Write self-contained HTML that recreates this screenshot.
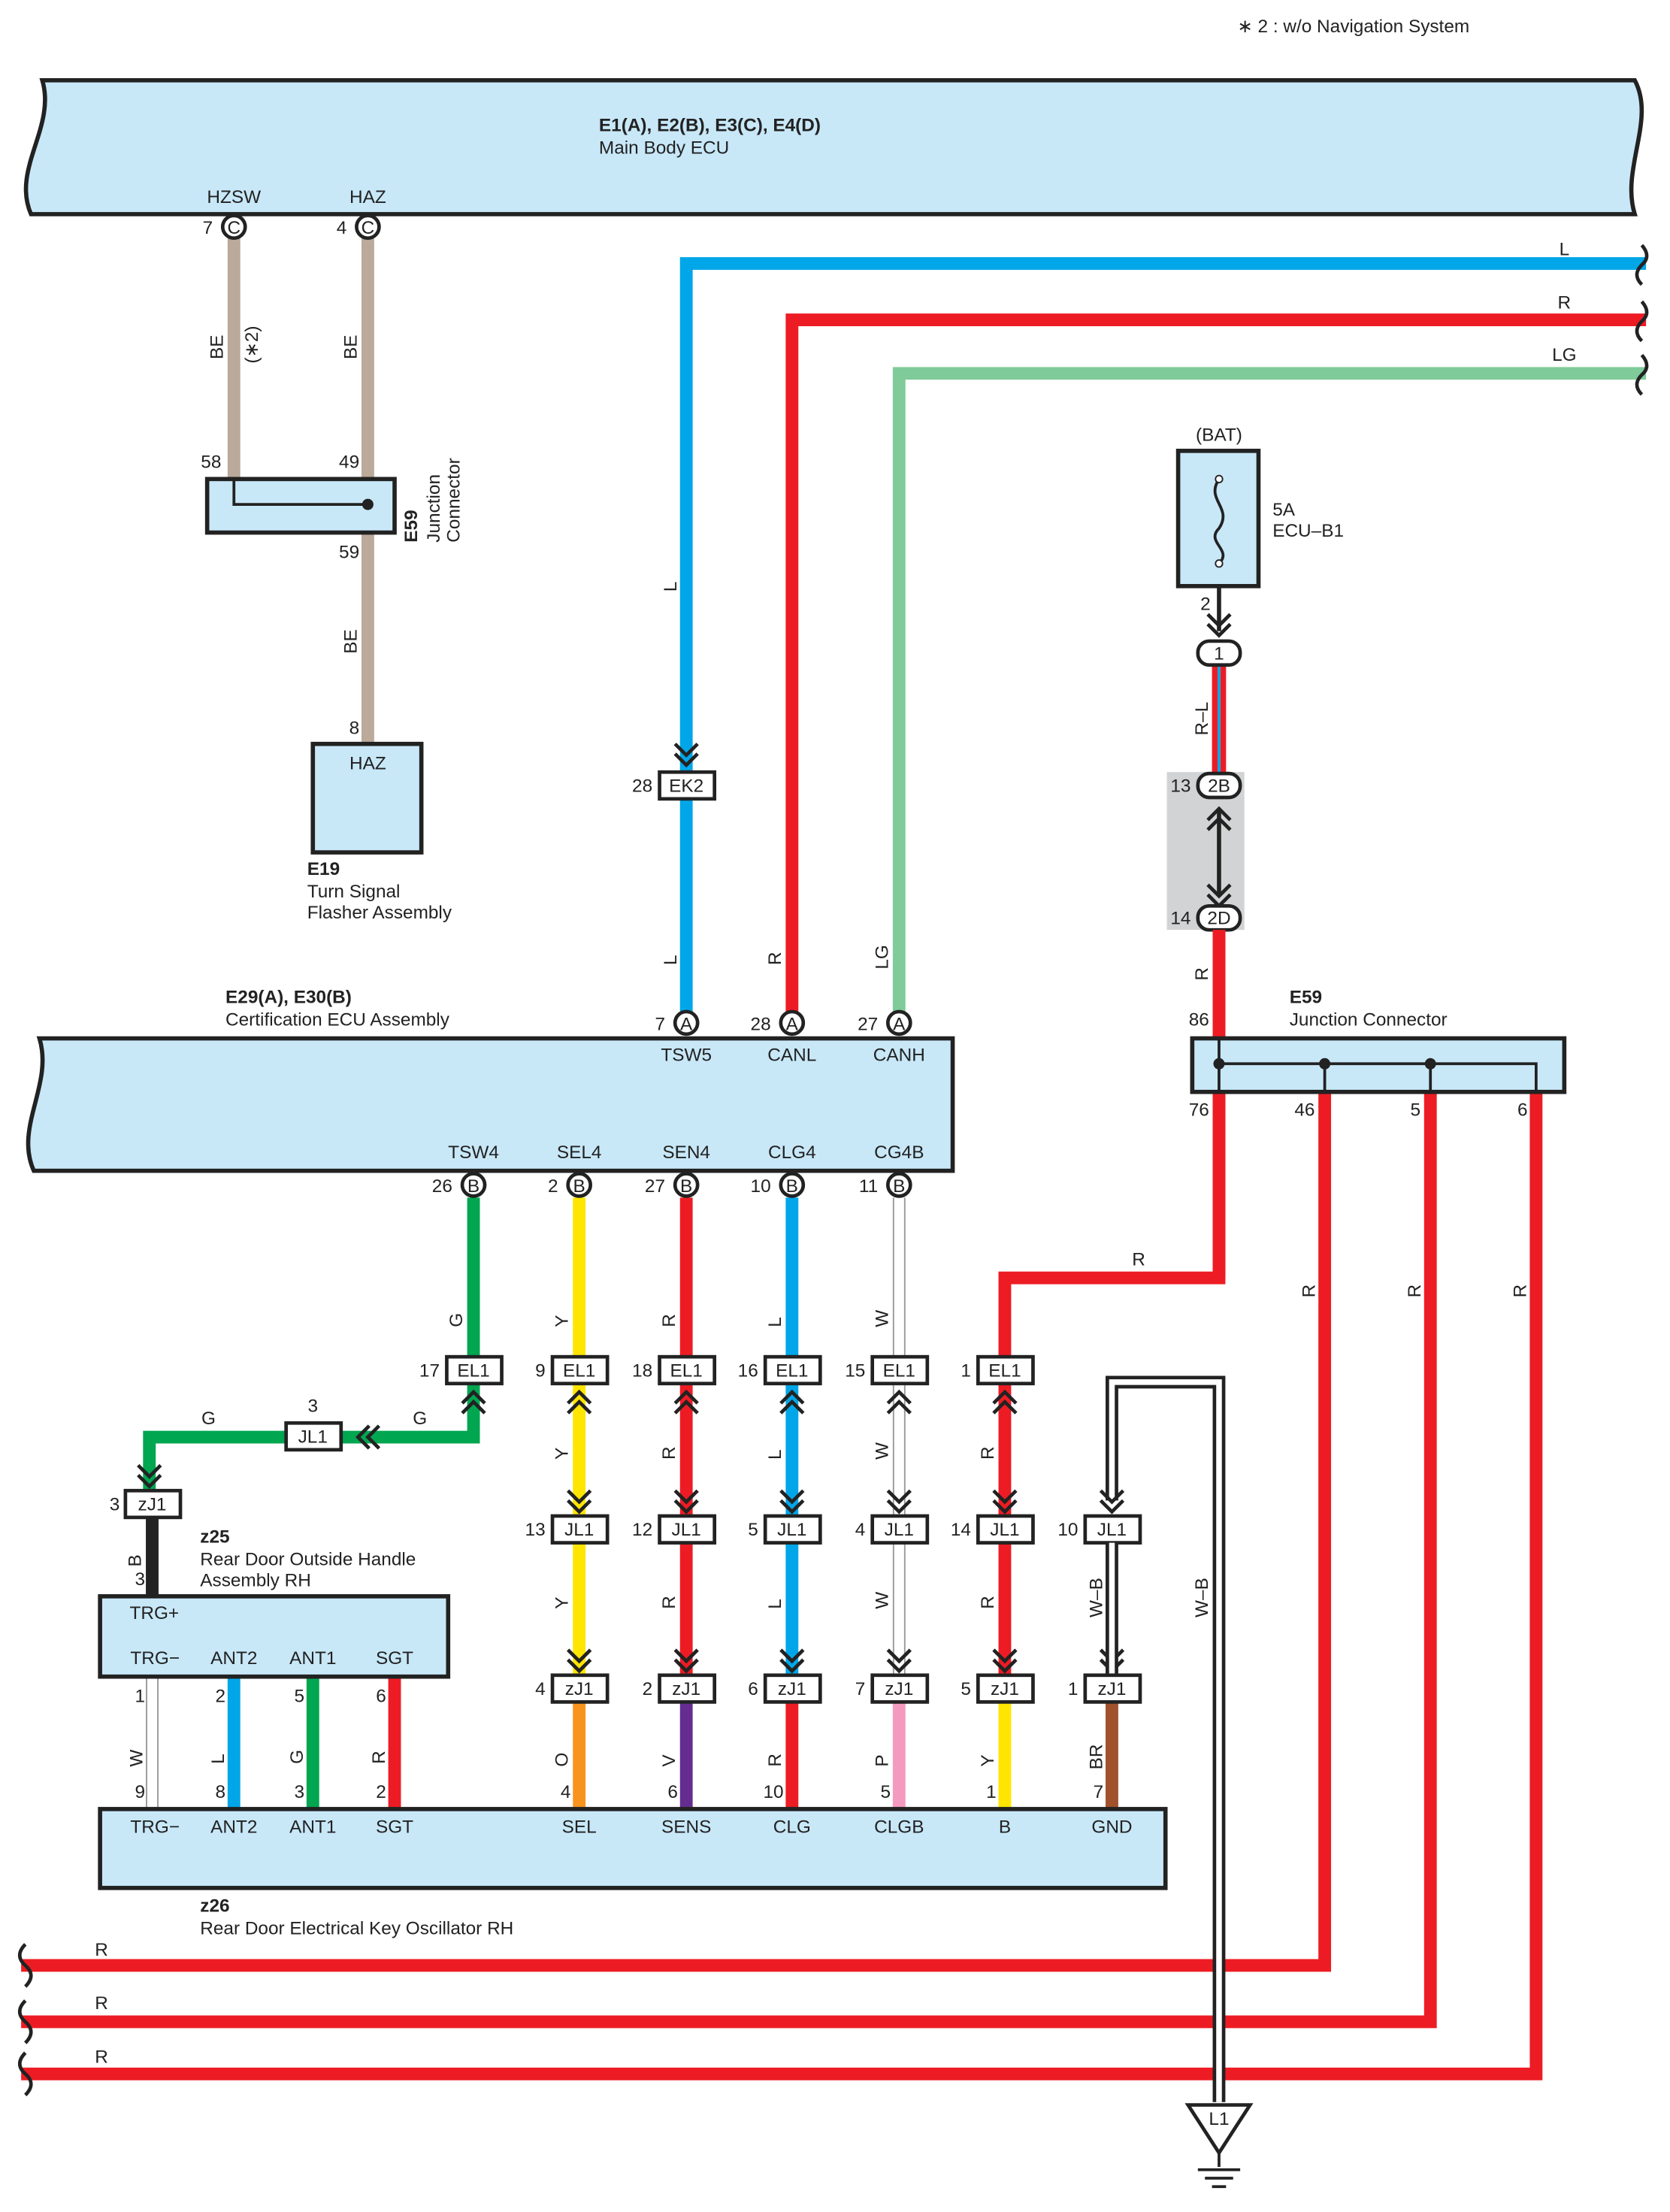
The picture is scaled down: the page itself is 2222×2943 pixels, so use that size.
<!DOCTYPE html>
<html><head><meta charset="utf-8"><style>
html,body{margin:0;padding:0;background:#fff}
svg{display:block}
text{font-family:"Liberation Sans",sans-serif;font-size:13px;fill:#222}
.b{font-weight:bold}
.c{text-anchor:middle}
.e{text-anchor:end}
.box{fill:#c8e8f8;stroke:#222;stroke-width:3}
.cn{fill:#fff;stroke:#222;stroke-width:2.5}
.ch{fill:none;stroke:#222;stroke-width:2.5}
.w{fill:none;stroke-width:9;stroke-linejoin:miter}
</style></head><body>
<svg width="2222" height="2943" viewBox="0 0 1185 1570" preserveAspectRatio="none" xmlns="http://www.w3.org/2000/svg">
<text x="878" y="23">∗ 2 : w/o Navigation System</text>

<path class="box" d="M30 57 L1160 57 C1175 85 1150 120 1160 152 L22 152 C8 120 40 90 30 57 Z"/>
<text x="425" y="93" class="b">E1(A), E2(B), E3(C), E4(D)</text>
<text x="425" y="109">Main Body ECU</text>
<text x="166" y="144" class="c">HZSW</text>
<text x="261" y="144" class="c">HAZ</text>

<path class="w" stroke="#bba99a" d="M166 168 V340"/>
<path class="w" stroke="#bba99a" d="M261 168 V528"/>
<rect x="147" y="340" width="133" height="38" class="box"/>
<path d="M166 340 V358 H261" fill="none" stroke="#222" stroke-width="2"/>
<circle cx="261" cy="358" r="4" fill="#222"/>
<circle cx="166" cy="161" r="8" class="cn"/><text x="166" y="166" class="c">C</text><text x="151" y="166" class="e">7</text>
<circle cx="261" cy="161" r="8" class="cn"/><text x="261" y="166" class="c">C</text><text x="246" y="166" class="e">4</text>
<text x="157" y="332" class="e">58</text><text x="255" y="332" class="e">49</text><text x="255" y="396" class="e">59</text>
<text transform="translate(158,255) rotate(-90)">BE</text>
<text transform="translate(183,258) rotate(-90)">(∗2)</text>
<text transform="translate(253,255) rotate(-90)">BE</text>
<text transform="translate(253,464) rotate(-90)">BE</text>
<text transform="translate(296,385) rotate(-90)" class="b">E59</text>
<text transform="translate(312,385) rotate(-90)">Junction</text>
<text transform="translate(326,385) rotate(-90)">Connector</text>
<rect x="222" y="528" width="77" height="77" class="box"/>
<text x="261" y="546" class="c">HAZ</text><text x="255" y="521" class="e">8</text>
<text x="218" y="621" class="b">E19</text>
<text x="218" y="637">Turn Signal</text>
<text x="218" y="652">Flasher Assembly</text>

<path class="w" stroke="#00a6e8" d="M1168 187 H487 V718"/>
<path class="w" stroke="#ed1c24" d="M1168 227 H562 V718"/>
<path class="w" stroke="#7fcb9a" d="M1168 265 H638 V718"/>
<path d="M1165 174 q7 8 0 14 q-7 7 0 14 M1165 214 q7 8 0 14 q-7 7 0 14 M1165 252 q7 8 0 14 q-7 7 0 14" fill="none" stroke="#222" stroke-width="2.5"/>
<text x="1110" y="181" class="c">L</text><text x="1110" y="219" class="c">R</text><text x="1110" y="256" class="c">LG</text>
<text transform="translate(480,420) rotate(-90)">L</text>
<path class="ch" d="M479 528 L487 536 L495 528 M479 535 L487 543 L495 535"/>
<rect x="468" y="548" width="39" height="19" class="cn"/><text x="487" y="562" class="c">EK2</text><text x="463" y="562" class="e">28</text>
<text transform="translate(480,685) rotate(-90)">L</text>
<text transform="translate(554,685) rotate(-90)">R</text>
<text transform="translate(630,688) rotate(-90)">LG</text>

<text x="160" y="712" class="b">E29(A), E30(B)</text>
<text x="160" y="728">Certification ECU Assembly</text>
<path class="box" d="M28 737 L676 737 L676 831 L24 831 C10 800 38 770 28 737 Z"/>
<circle cx="487" cy="726" r="8" class="cn"/><text x="487" y="731" class="c">A</text><text x="472" y="731" class="e">7</text>
<circle cx="562" cy="726" r="8" class="cn"/><text x="562" y="731" class="c">A</text><text x="547" y="731" class="e">28</text>
<circle cx="638" cy="726" r="8" class="cn"/><text x="638" y="731" class="c">A</text><text x="623" y="731" class="e">27</text>
<text x="487" y="753" class="c">TSW5</text><text x="562" y="753" class="c">CANL</text><text x="638" y="753" class="c">CANH</text>
<text x="336" y="822" class="c">TSW4</text><text x="411" y="822" class="c">SEL4</text><text x="487" y="822" class="c">SEN4</text><text x="562" y="822" class="c">CLG4</text><text x="638" y="822" class="c">CG4B</text>

<path class="w" stroke="#00a650" d="M336 850 V1020 H106 V1058"/>
<path class="w" stroke="#ffe500" d="M411 850 V1189"/>
<path class="w" stroke="#ed1c24" d="M487 850 V1189"/>
<path class="w" stroke="#00a6e8" d="M562 850 V1189"/>
<path fill="none" stroke="#999" stroke-width="9" d="M638 850 V1189"/><path fill="none" stroke="#fff" stroke-width="7" d="M638 850 V1189"/>
<path class="w" stroke="#ed1c24" d="M865 660 V907 H713 V1189"/>
<path class="w" stroke="#f7941d" d="M411 1208 V1284"/>
<path class="w" stroke="#662d91" d="M487 1208 V1284"/>
<path class="w" stroke="#ed1c24" d="M562 1208 V1284"/>
<path class="w" stroke="#f49ac1" d="M638 1208 V1284"/>
<path class="w" stroke="#ffe500" d="M713 1208 V1284"/>
<path class="w" stroke="#a0522d" d="M789 1208 V1284"/>
<path class="w" stroke="#222" d="M108 1076 V1133"/>
<path fill="none" stroke="#999" stroke-width="9" d="M108 1190 V1284"/><path fill="none" stroke="#fff" stroke-width="7" d="M108 1190 V1284"/>
<path class="w" stroke="#00a6e8" d="M166 1190 V1284"/>
<path class="w" stroke="#00a650" d="M222 1190 V1284"/>
<path class="w" stroke="#ed1c24" d="M280 1190 V1284"/>

<path class="w" stroke="#ed1c24" d="M940 775 V1395 H15"/>
<path class="w" stroke="#ed1c24" d="M1015 775 V1435 H15"/>
<path class="w" stroke="#ed1c24" d="M1090 775 V1472 H15"/>
<path d="M18 1380 q-8 8 0 15 q8 7 0 15 M18 1420 q-8 8 0 15 q8 7 0 15 M18 1457 q-8 8 0 15 q8 7 0 15" fill="none" stroke="#222" stroke-width="2.5"/>
<text x="72" y="1388" class="c">R</text><text x="72" y="1426" class="c">R</text><text x="72" y="1464" class="c">R</text>
<text transform="translate(933,921) rotate(-90)">R</text>
<text transform="translate(1008,921) rotate(-90)">R</text>
<text transform="translate(1083,921) rotate(-90)">R</text>
<text x="808" y="898" class="c">R</text>

<path d="M789 1065 V981 H865 V1492" fill="none" stroke="#222" stroke-width="9"/>
<path d="M789 1065 V981 H865 V1492" fill="none" stroke="#fff" stroke-width="4"/>
<text transform="translate(782,1148) rotate(-90)">W–B</text>
<text transform="translate(857,1148) rotate(-90)">W–B</text>
<path d="M843 1494 L887 1494 L865 1528 Z" fill="#fff" stroke="#222" stroke-width="2.5"/>
<text x="865" y="1508" class="c">L1</text>
<path d="M865 1528 V1538 M850 1540 H880 M855 1546 H875 M860 1552 H870" stroke="#222" stroke-width="2" fill="none"/>

<g>
<circle cx="336" cy="841" r="8" class="cn"/><text x="336" y="846" class="c">B</text><text x="321" y="846" class="e">26</text>
<circle cx="411" cy="841" r="8" class="cn"/><text x="411" y="846" class="c">B</text><text x="396" y="846" class="e">2</text>
<circle cx="487" cy="841" r="8" class="cn"/><text x="487" y="846" class="c">B</text><text x="472" y="846" class="e">27</text>
<circle cx="562" cy="841" r="8" class="cn"/><text x="562" y="846" class="c">B</text><text x="547" y="846" class="e">10</text>
<circle cx="638" cy="841" r="8" class="cn"/><text x="638" y="846" class="c">B</text><text x="623" y="846" class="e">11</text>
</g>
<text transform="translate(328,942) rotate(-90)">G</text>
<text transform="translate(403,942) rotate(-90)">Y</text>
<text transform="translate(479,942) rotate(-90)">R</text>
<text transform="translate(554,942) rotate(-90)">L</text>
<text transform="translate(630,942) rotate(-90)">W</text>
<text transform="translate(403,1036) rotate(-90)">Y</text>
<text transform="translate(479,1036) rotate(-90)">R</text>
<text transform="translate(554,1036) rotate(-90)">L</text>
<text transform="translate(630,1036) rotate(-90)">W</text>
<text transform="translate(705,1036) rotate(-90)">R</text>
<text transform="translate(403,1142) rotate(-90)">Y</text>
<text transform="translate(479,1142) rotate(-90)">R</text>
<text transform="translate(554,1142) rotate(-90)">L</text>
<text transform="translate(630,1142) rotate(-90)">W</text>
<text transform="translate(705,1142) rotate(-90)">R</text>
<text transform="translate(403,1254) rotate(-90)">O</text>
<text transform="translate(479,1254) rotate(-90)">V</text>
<text transform="translate(554,1254) rotate(-90)">R</text>
<text transform="translate(630,1254) rotate(-90)">P</text>
<text transform="translate(705,1254) rotate(-90)">Y</text>
<text transform="translate(782,1256) rotate(-90)">BR</text>

<g>
<path class="ch" d="M328 996 L336 988 L344 996 M328 1003 L336 995 L344 1003"/>
<rect x="317" y="963" width="39" height="19" class="cn"/><text x="336" y="977" class="c">EL1</text><text x="312" y="977" class="e">17</text>
<rect x="392" y="963" width="39" height="19" class="cn"/><text x="411" y="977" class="c">EL1</text><text x="387" y="977" class="e">9</text>
<rect x="468" y="963" width="39" height="19" class="cn"/><text x="487" y="977" class="c">EL1</text><text x="463" y="977" class="e">18</text>
<rect x="543" y="963" width="39" height="19" class="cn"/><text x="562" y="977" class="c">EL1</text><text x="538" y="977" class="e">16</text>
<rect x="619" y="963" width="39" height="19" class="cn"/><text x="638" y="977" class="c">EL1</text><text x="614" y="977" class="e">15</text>
<rect x="694" y="963" width="39" height="19" class="cn"/><text x="713" y="977" class="c">EL1</text><text x="689" y="977" class="e">1</text>
</g>
<g class="ch">
<path d="M403 996 L411 988 L419 996 M403 1003 L411 995 L419 1003"/>
<path d="M479 996 L487 988 L495 996 M479 1003 L487 995 L495 1003"/>
<path d="M554 996 L562 988 L570 996 M554 1003 L562 995 L570 1003"/>
<path d="M630 996 L638 988 L646 996 M630 1003 L638 995 L646 1003"/>
<path d="M705 996 L713 988 L721 996 M705 1003 L713 995 L721 1003"/>
<path d="M403 1058 L411 1066 L419 1058 M403 1065 L411 1073 L419 1065"/>
<path d="M479 1058 L487 1066 L495 1058 M479 1065 L487 1073 L495 1065"/>
<path d="M554 1058 L562 1066 L570 1058 M554 1065 L562 1073 L570 1065"/>
<path d="M630 1058 L638 1066 L646 1058 M630 1065 L638 1073 L646 1065"/>
<path d="M705 1058 L713 1066 L721 1058 M705 1065 L713 1073 L721 1065"/>
<path d="M781 1058 L789 1066 L797 1058 M781 1065 L789 1073 L797 1065"/>
<path d="M403 1171 L411 1179 L419 1171 M403 1178 L411 1186 L419 1178"/>
<path d="M479 1171 L487 1179 L495 1171 M479 1178 L487 1186 L495 1178"/>
<path d="M554 1171 L562 1179 L570 1171 M554 1178 L562 1186 L570 1178"/>
<path d="M630 1171 L638 1179 L646 1171 M630 1178 L638 1186 L646 1178"/>
<path d="M705 1171 L713 1179 L721 1171 M705 1178 L713 1186 L721 1178"/>
<path d="M781 1171 L789 1179 L797 1171 M781 1178 L789 1186 L797 1178"/>
<path d="M262 1012 L254 1020 L262 1028 M269 1012 L261 1020 L269 1028"/>
<path d="M98 1040 L106 1048 L114 1040 M98 1047 L106 1055 L114 1047"/>
</g>
<rect x="392" y="1076" width="39" height="19" class="cn"/><text x="411" y="1090" class="c">JL1</text><text x="387" y="1090" class="e">13</text>
<rect x="468" y="1076" width="39" height="19" class="cn"/><text x="487" y="1090" class="c">JL1</text><text x="463" y="1090" class="e">12</text>
<rect x="543" y="1076" width="39" height="19" class="cn"/><text x="562" y="1090" class="c">JL1</text><text x="538" y="1090" class="e">5</text>
<rect x="619" y="1076" width="39" height="19" class="cn"/><text x="638" y="1090" class="c">JL1</text><text x="614" y="1090" class="e">4</text>
<rect x="694" y="1076" width="39" height="19" class="cn"/><text x="713" y="1090" class="c">JL1</text><text x="689" y="1090" class="e">14</text>
<rect x="770" y="1076" width="39" height="19" class="cn"/><text x="789" y="1090" class="c">JL1</text><text x="765" y="1090" class="e">10</text>
<path d="M789 1095 V1189" fill="none" stroke="#222" stroke-width="9"/><path d="M789 1095 V1189" fill="none" stroke="#fff" stroke-width="4"/>
<rect x="392" y="1189" width="39" height="19" class="cn"/><text x="411" y="1203" class="c">zJ1</text><text x="387" y="1203" class="e">4</text>
<rect x="468" y="1189" width="39" height="19" class="cn"/><text x="487" y="1203" class="c">zJ1</text><text x="463" y="1203" class="e">2</text>
<rect x="543" y="1189" width="39" height="19" class="cn"/><text x="562" y="1203" class="c">zJ1</text><text x="538" y="1203" class="e">6</text>
<rect x="619" y="1189" width="39" height="19" class="cn"/><text x="638" y="1203" class="c">zJ1</text><text x="614" y="1203" class="e">7</text>
<rect x="694" y="1189" width="39" height="19" class="cn"/><text x="713" y="1203" class="c">zJ1</text><text x="689" y="1203" class="e">5</text>
<rect x="770" y="1189" width="39" height="19" class="cn"/><text x="789" y="1203" class="c">zJ1</text><text x="765" y="1203" class="e">1</text>

<rect x="203" y="1010" width="39" height="19" class="cn"/><text x="222" y="1024" class="c">JL1</text>
<text x="222" y="1002" class="c">3</text><text x="148" y="1011" class="c">G</text><text x="298" y="1011" class="c">G</text>
<rect x="89" y="1058" width="39" height="19" class="cn"/><text x="108" y="1072" class="c">zJ1</text><text x="85" y="1072" class="e">3</text>
<text transform="translate(100,1112) rotate(-90)">B</text><text x="103" y="1125" class="e">3</text>
<text x="142" y="1095" class="b">z25</text>
<text x="142" y="1111">Rear Door Outside Handle</text>
<text x="142" y="1126">Assembly RH</text>

<rect x="71" y="1133" width="247" height="57" class="box"/>
<text x="92" y="1149">TRG+</text>
<text x="110" y="1181" class="c">TRG−</text><text x="166" y="1181" class="c">ANT2</text><text x="222" y="1181" class="c">ANT1</text><text x="280" y="1181" class="c">SGT</text>
<text x="103" y="1208" class="e">1</text><text x="160" y="1208" class="e">2</text><text x="216" y="1208" class="e">5</text><text x="274" y="1208" class="e">6</text>
<text transform="translate(101,1254) rotate(-90)">W</text>
<text transform="translate(159,1252) rotate(-90)">L</text>
<text transform="translate(215,1252) rotate(-90)">G</text>
<text transform="translate(273,1252) rotate(-90)">R</text>
<text x="103" y="1276" class="e">9</text><text x="160" y="1276" class="e">8</text><text x="216" y="1276" class="e">3</text><text x="274" y="1276" class="e">2</text>
<text x="405" y="1276" class="e">4</text><text x="481" y="1276" class="e">6</text><text x="556" y="1276" class="e">10</text><text x="632" y="1276" class="e">5</text><text x="707" y="1276" class="e">1</text><text x="783" y="1276" class="e">7</text>

<rect x="71" y="1284" width="756" height="56" class="box"/>
<text x="110" y="1301" class="c">TRG−</text><text x="166" y="1301" class="c">ANT2</text><text x="222" y="1301" class="c">ANT1</text><text x="280" y="1301" class="c">SGT</text>
<text x="411" y="1301" class="c">SEL</text><text x="487" y="1301" class="c">SENS</text><text x="562" y="1301" class="c">CLG</text><text x="638" y="1301" class="c">CLGB</text><text x="713" y="1301" class="c">B</text><text x="789" y="1301" class="c">GND</text>
<text x="142" y="1357" class="b">z26</text>
<text x="142" y="1373">Rear Door Electrical Key Oscillator RH</text>

<text x="865" y="313" class="c">(BAT)</text>
<rect x="836" y="320" width="57" height="96" class="box"/>
<path d="M865 340 C855 355 875 360 865 375 C855 385 875 390 865 400" fill="none" stroke="#222" stroke-width="2"/>
<circle cx="865" cy="340" r="2.5" fill="#fff" stroke="#222"/><circle cx="865" cy="400" r="2.5" fill="#fff" stroke="#222"/>
<text x="903" y="366">5A</text><text x="903" y="381">ECU–B1</text>
<path d="M865 416 V448" stroke="#222" stroke-width="3"/>
<path class="ch" d="M857 436 L865 444 L873 436 M857 443 L865 451 L873 443"/>
<text x="859" y="433" class="e">2</text>
<path d="M862 472 V548" stroke="#ed1c24" stroke-width="4"/><path d="M868 472 V548" stroke="#ed1c24" stroke-width="4"/><path d="M865 472 V548" stroke="#00a6e8" stroke-width="2"/>
<rect x="850" y="455" width="30" height="17" rx="8" class="cn"/><text x="865" y="468" class="c">1</text>
<text transform="translate(857,522) rotate(-90)">R–L</text>
<rect x="828" y="548" width="55" height="112" fill="#d1d3d4"/>
<path d="M865 575 V636" stroke="#222" stroke-width="3"/>
<path class="ch" d="M857 582 L865 574 L873 582 M857 589 L865 581 L873 589 M857 628 L865 636 L873 628 M857 635 L865 643 L873 635"/>
<rect x="850" y="549" width="30" height="17" rx="8" class="cn"/><text x="865" y="562" class="c">2B</text><text x="845" y="562" class="e">13</text>
<rect x="850" y="643" width="30" height="17" rx="8" class="cn"/><text x="865" y="656" class="c">2D</text><text x="845" y="656" class="e">14</text>
<path class="w" stroke="#ed1c24" d="M865 660 V737"/>
<text transform="translate(857,696) rotate(-90)">R</text>
<text x="858" y="728" class="e">86</text>
<text x="915" y="712" class="b">E59</text>
<text x="915" y="728">Junction Connector</text>
<rect x="846" y="737" width="264" height="38" class="box"/>
<path d="M865 737 V775 M865 755 H1090 V775 M940 755 V775 M1015 755 V775" fill="none" stroke="#222" stroke-width="2"/>
<circle cx="865" cy="755" r="4" fill="#222"/><circle cx="940" cy="755" r="4" fill="#222"/><circle cx="1015" cy="755" r="4" fill="#222"/>
<path class="w" stroke="#ed1c24" d="M865 777 V907"/>
<text x="858" y="792" class="e">76</text><text x="933" y="792" class="e">46</text><text x="1008" y="792" class="e">5</text><text x="1084" y="792" class="e">6</text>
</svg>
</body></html>
